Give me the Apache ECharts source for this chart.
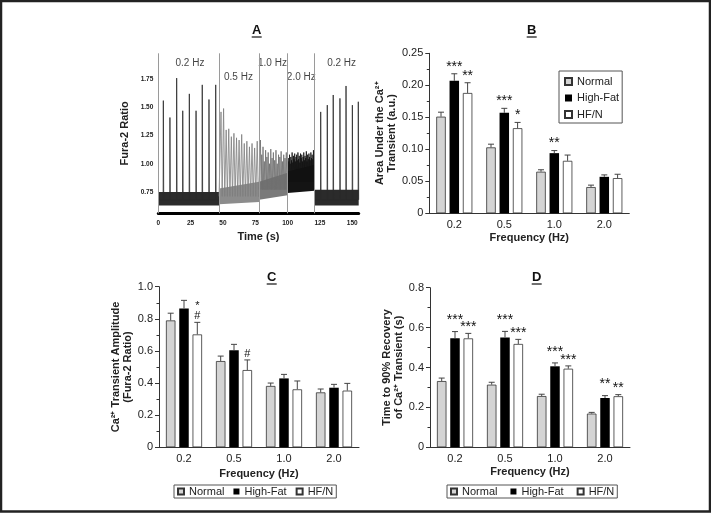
<!DOCTYPE html>
<html><head><meta charset="utf-8">
<script src="https://cdn.jsdelivr.net/npm/echarts@6/dist/echarts.min.js"></script>
<style>html,body{margin:0;padding:0;background:#fff}#c{width:711px;height:513px}</style>
</head><body><div id="c"></div><script>
// ---------- Panel A: Fura-2 trace ----------
const boundaryTimes = [0, 47, 78, 100, 121];
const hzLabels = ['0.2 Hz', '0.5 Hz', '1.0 Hz', '2.0 Hz', '0.2 Hz'];
const hzLabelT = [24.5, 62, 88.3, 110.6, 141.8];
const hzLabelV = [1.89, 1.77, 1.89, 1.77, 1.89];
const yTicksA = [0.75, 1.0, 1.25, 1.5, 1.75];

const spikeT02a = [3.9, 9.0, 14.2, 18.9, 24.0, 29.2, 34.0, 39.2, 44.4];
const spikeP02a = [1.56, 1.41, 1.76, 1.47, 1.62, 1.47, 1.70, 1.57, 1.70];
const spikeT05 = [48.5, 50.5, 52.5, 54.5, 56.5, 58.5, 60.5, 62.5, 64.5, 66.5, 68.5, 70.5, 72.5, 74.5, 76.5];
const spikeP05 = [1.46, 1.49, 1.30, 1.31, 1.24, 1.27, 1.23, 1.21, 1.26, 1.18, 1.20, 1.15, 1.18, 1.14, 1.20];
const spikeT10 = [79, 80, 81, 82, 83, 84, 85, 86, 87, 88, 89, 90, 91, 92, 93, 94, 95, 96, 97, 98, 99];
const spikeP10 = [1.21, 1.08, 1.15, 1.02, 1.12, 1.06, 1.10, 1.00, 1.13, 1.05, 1.10, 1.03, 1.12, 1.00, 1.08, 1.06, 1.11, 1.02, 1.08, 1.05, 1.10];
const spikeT20 = [100.5, 101, 101.5, 102, 102.5, 103, 103.5, 104, 104.5, 105, 105.5, 106, 106.5, 107, 107.5, 108, 108.5, 109, 109.5, 110, 110.5, 111, 111.5, 112, 112.5, 113, 113.5, 114, 114.5, 115, 115.5, 116, 116.5, 117, 117.5, 118, 118.5, 119, 119.5, 120, 120.5];
const spikeP20 = [1.05, 1.02, 1.08, 1.00, 1.06, 1.03, 1.10, 1.01, 1.07, 1.04, 1.09, 1.02, 1.06, 1.08, 1.03, 1.10, 1.04, 1.07, 1.01, 1.09, 1.05, 1.08, 1.02, 1.06, 1.10, 1.03, 1.07, 1.05, 1.11, 1.02, 1.08, 1.04, 1.09, 1.06, 1.03, 1.10, 1.05, 1.08, 1.04, 1.12, 1.07];
const spikeT02b = [125.6, 130.7, 135.3, 140.5, 145.2, 150.1, 154.7];
const spikeP02b = [1.46, 1.52, 1.61, 1.58, 1.69, 1.52, 1.55];
const spikeBase = [0.68, 0.71, 0.77, 0.84, 0.68];

// noisy baseline envelope per stimulation period
const bandStart = [0, 47, 78, 100, 121];
const bandEnd = [47, 78, 100, 121, 155];
const bandLoStart = [0.63, 0.64, 0.68, 0.74, 0.63];
const bandLoEnd = [0.63, 0.66, 0.72, 0.76, 0.63];
const bandHiStart = [0.75, 0.78, 0.84, 0.93, 0.77];
const bandHiEnd = [0.75, 0.84, 0.92, 0.99, 0.77];

// ---------- Panels B, C, D ----------
const categories = ['0.2', '0.5', '1.0', '2.0'];
const seriesNames = ['Normal', 'High-Fat', 'HF/N'];

const aucNormal = [0.151, 0.103, 0.065, 0.041];
const aucNormalErr = [0.007, 0.005, 0.003, 0.003];
const aucHighFat = [0.207, 0.157, 0.094, 0.057];
const aucHighFatErr = [0.011, 0.007, 0.004, 0.003];
const aucHFN = [0.188, 0.133, 0.082, 0.055];
const aucHFNErr = [0.016, 0.009, 0.009, 0.006];
const aucSigHighFat = ['***', '***', '**', ''];
const aucSigHFN = ['**', '*', '', ''];

const ampNormal = [0.790, 0.537, 0.382, 0.342];
const ampNormalErr = [0.045, 0.031, 0.018, 0.021];
const ampHighFat = [0.865, 0.604, 0.429, 0.371];
const ampHighFatErr = [0.050, 0.037, 0.025, 0.021];
const ampHFN = [0.703, 0.481, 0.361, 0.353];
const ampHFNErr = [0.075, 0.063, 0.052, 0.045];
const ampSigHighFat = ['', '', '', ''];
const ampSigHFN = ['*\n#', '#', '', ''];

const recNormal = [0.332, 0.314, 0.257, 0.169];
const recNormalErr = [0.015, 0.012, 0.009, 0.006];
const recHighFat = [0.546, 0.551, 0.406, 0.247];
const recHighFatErr = [0.034, 0.030, 0.017, 0.012];
const recHFN = [0.546, 0.518, 0.394, 0.256];
const recHFNErr = [0.025, 0.023, 0.014, 0.008];
const recSigHighFat = ['***', '***', '***', '**'];
const recSigHFN = ['***', '***', '***', '**'];
const noSig = ['', '', '', ''];

// ---------- styling ----------
const FONT = '"Liberation Sans", Arial, Helvetica, sans-serif';
const INK = '#222';
const BAR_W = 9.5;
const BAR_STEP = 13.3;
const barFill = ['#d4d4d4', '#000000', '#ffffff'];
const regionFill = ['#2b2b2b', '#8c8c8c', '#7a7a7a', '#141414', '#2b2b2b'];
const spikeColor = ['#2a2a2a', '#7d7d7d', '#6e6e6e', '#111111', '#2a2a2a'];
const spikeRise = [0.15, 0.35, 0.25, 0.12, 0.15];
const spikeFall = [0.3, 0.9, 0.55, 0.3, 0.3];

const spikeSets = [[spikeT02a, spikeP02a], [spikeT05, spikeP05], [spikeT10, spikeP10], [spikeT20, spikeP20], [spikeT02b, spikeP02b]];
const traceSeries = spikeSets.map(([ts, ps], r) => {
  const b = spikeBase[r];
  const pts = [[bandStart[r], b]];
  ts.forEach((t, i) => { pts.push([t - spikeRise[r], b], [t, ps[i]], [t + spikeFall[r], b]); });
  pts.push([bandEnd[r], b]);
  return {
    type: 'line', name: 'trace' + r, xAxisIndex: 0, yAxisIndex: 0, data: pts, showSymbol: false, symbol: 'none',
    sampling: null, silent: true, z: 2, lineStyle: { color: spikeColor[r], width: 0.8 }
  };
});

const bandData = bandStart.map((s, i) => [s, bandEnd[i], bandLoStart[i], bandLoEnd[i], bandHiStart[i], bandHiEnd[i]]);

const chart = echarts.init(document.getElementById('c'), null, { renderer: 'canvas' });

function errSeries(name, gi, axisIdx, vals, errs, sigs, sigSize, sigLH, lift) {
  return {
    type: 'custom', name: name + ' err', xAxisIndex: axisIdx, yAxisIndex: axisIdx, z: 5,
    silent: true, legendHoverLink: false,
    data: vals.map((v, i) => [i, v, errs[i]]),
    encode: { x: 0, y: 1 },
    renderItem: function (params, api) {
      const ci = api.value(0), v = api.value(1), e = api.value(2);
      const b = api.coord([ci, v]);
      const t = api.coord([ci, v + e]);
      const x = b[0] + (gi - 1) * BAR_STEP;
      const kids = [
        { type: 'line', shape: { x1: x, y1: b[1], x2: x, y2: t[1] }, style: { stroke: '#444', lineWidth: 1 } },
        { type: 'line', shape: { x1: x - 3, y1: t[1], x2: x + 3, y2: t[1] }, style: { stroke: '#444', lineWidth: 1 } }
      ];
      const s = sigs[params.dataIndex];
      if (s) {
        kids.push({ type: 'text', style: { text: s, x: x, y: t[1] - lift, align: 'center', verticalAlign: 'bottom',
          fontSize: sigSize, lineHeight: sigLH, fontFamily: FONT, fill: '#111' } });
      }
      return { type: 'group', children: kids };
    }
  };
}

function barSeries(name, gi, axisIdx, vals) {
  return {
    type: 'bar', name: name, xAxisIndex: axisIdx, yAxisIndex: axisIdx,
    data: vals, barWidth: BAR_W, barGap: '40%',
    itemStyle: { color: barFill[gi], borderColor: '#333', borderWidth: gi === 1 ? 0 : 0.8 },
    emphasis: { disabled: true }
  };
}

function catX(gridIdx, nameGap) {
  return {
    type: 'category', gridIndex: gridIdx, data: categories,
    axisLine: { lineStyle: { color: '#333', width: 1 } }, axisTick: { show: false },
    axisLabel: { fontSize: 11, color: INK, fontFamily: FONT, margin: 6 },
    name: 'Frequency (Hz)', nameLocation: 'middle', nameGap: nameGap,
    nameTextStyle: { fontSize: 11, fontWeight: 'bold', color: INK, fontFamily: FONT }
  };
}
function valY(gridIdx, max, interval, digits, name, nameGap) {
  return {
    type: 'value', gridIndex: gridIdx, min: 0, max: max, interval: interval,
    axisLine: { show: true, lineStyle: { color: '#333', width: 1 } },
    axisTick: { show: true, length: 4, lineStyle: { color: '#333' } },
    minorTick: { show: true, splitNumber: 2, length: 2.5, lineStyle: { color: '#333' } },
    splitLine: { show: false },
    axisLabel: { fontSize: 11, color: INK, fontFamily: FONT, margin: 6,
      formatter: v => (v === 0 ? '0' : v.toFixed(digits)) },
    name: name, nameLocation: 'middle', nameGap: nameGap,
    nameTextStyle: { fontSize: 11, fontWeight: 'bold', color: INK, fontFamily: FONT, lineHeight: 12 }
  };
}

function panelTitle(letter, cx, cy) {
  return [
    { type: 'text', style: { text: letter, x: cx, y: cy, align: 'center', verticalAlign: 'middle',
      font: 'bold 13px ' + FONT, fill: '#111' } },
    { type: 'line', shape: { x1: cx - 5, y1: cy + 7, x2: cx + 5, y2: cy + 7 }, style: { stroke: '#111', lineWidth: 1.2 } }
  ];
}

const legendBase = {
  data: seriesNames, icon: 'rect', itemWidth: 6, itemHeight: 6, itemTextGap: 5,
  borderColor: '#555', borderWidth: 1, selectedMode: false,
  textStyle: { fontSize: 11, color: INK, fontFamily: FONT }
};

const option = {
  animation: false,
  backgroundColor: '#fff',
  textStyle: { fontFamily: FONT },
  grid: [
    { left: 158.3, top: 53.3, width: 200.4, height: 160 },
    { left: 429.3, top: 53.3, width: 200, height: 160 },
    { left: 159, top: 286.7, width: 200, height: 160.6 },
    { left: 430, top: 287.7, width: 200, height: 159.6 }
  ],
  legend: [
    Object.assign({}, legendBase, { orient: 'vertical', left: 559, top: 71, itemWidth: 7, itemHeight: 7, itemGap: 5.5, padding: [5, 3, 3, 5] }),
    Object.assign({}, legendBase, { orient: 'horizontal', left: 174, top: 485, itemGap: 9, padding: [1, 3, 1, 3] }),
    Object.assign({}, legendBase, { orient: 'horizontal', left: 447, top: 485, itemGap: 13, padding: [1, 3, 1, 3] })
  ],
  xAxis: [
    { type: 'value', gridIndex: 0, min: 0, max: 155, interval: 25,
      axisLine: { show: true, lineStyle: { color: '#000', width: 3 } }, axisTick: { show: false }, splitLine: { show: false },
      axisLabel: { fontSize: 6.5, fontWeight: 'bold', color: INK, fontFamily: FONT, margin: 6,
        formatter: v => (v > 150 ? '' : String(v)) },
      name: 'Time (s)', nameLocation: 'middle', nameGap: 18,
      nameTextStyle: { fontSize: 11, fontWeight: 'bold', color: INK, fontFamily: FONT } },
    catX(1, 19), catX(2, 21), catX(3, 19)
  ],
  yAxis: [
    { type: 'value', gridIndex: 0, min: 0.56, max: 1.98,
      axisLine: { show: false }, axisTick: { show: false }, splitLine: { show: false },
      axisLabel: { customValues: yTicksA, fontSize: 6.5, fontWeight: 'bold', color: INK, fontFamily: FONT, margin: 5,
        formatter: v => v.toFixed(2) },
      name: 'Fura-2 Ratio', nameLocation: 'middle', nameGap: 28,
      nameTextStyle: { fontSize: 11, fontWeight: 'bold', color: INK, fontFamily: FONT } },
    valY(1, 0.25, 0.05, 2, 'Area Under the Ca\u00B2\u207A\nTransient (a.u.)', 30),
    valY(2, 1.0, 0.2, 1, 'Ca\u00B2\u207A Transient Amplitude\n(Fura-2 Ratio)', 19.5),
    valY(3, 0.8, 0.2, 1, 'Time to 90% Recovery\nof Ca\u00B2\u207A Transient (s)', 18.5)
  ],
  graphic: [].concat(
    panelTitle('A', 256.7, 30), panelTitle('B', 531.7, 30), panelTitle('C', 271.7, 277), panelTitle('D', 536.7, 277),
    [{ type: 'rect', silent: true, z: 100, shape: { x: 1, y: 1, width: 709, height: 510.5 },
       style: { fill: 'none', stroke: '#222', lineWidth: 2.5 } }]
  ),
  series: [
    { type: 'custom', name: 'baseline', xAxisIndex: 0, yAxisIndex: 0, silent: true, z: 1,
      data: bandData, encode: { x: [0, 1], y: [2, 3, 4, 5] },
      renderItem: function (params, api) {
        const p0 = api.coord([api.value(0), api.value(2)]);
        const p1 = api.coord([api.value(1), api.value(3)]);
        const p2 = api.coord([api.value(1), api.value(5)]);
        const p3 = api.coord([api.value(0), api.value(4)]);
        return { type: 'polygon', shape: { points: [p0, p1, p2, p3] }, style: { fill: regionFill[params.dataIndex] } };
      } },
    { type: 'line', name: 'boundaries', xAxisIndex: 0, yAxisIndex: 0, data: [], silent: true, z: 3,
      markLine: { symbol: 'none', silent: true, label: { show: false }, animation: false,
        lineStyle: { color: '#9a9a9a', width: 1, type: 'solid' },
        data: boundaryTimes.map(t => ({ xAxis: t })) } },
    { type: 'scatter', name: 'hz', xAxisIndex: 0, yAxisIndex: 0, silent: true, symbolSize: 0, z: 4,
      data: hzLabelT.map((t, i) => [t, hzLabelV[i], hzLabels[i]]),
      label: { show: true, position: 'inside', formatter: p => p.value[2], fontSize: 10, color: '#111', fontFamily: FONT } }
  ].concat(traceSeries, [
    barSeries('Normal', 0, 1, aucNormal), barSeries('High-Fat', 1, 1, aucHighFat), barSeries('HF/N', 2, 1, aucHFN),
    errSeries('Normal', 0, 1, aucNormal, aucNormalErr, noSig, 14, 14, 0),
    errSeries('High-Fat', 1, 1, aucHighFat, aucHighFatErr, aucSigHighFat, 14, 14, 0),
    errSeries('HF/N', 2, 1, aucHFN, aucHFNErr, aucSigHFN, 14, 14, 0),

    barSeries('Normal', 0, 2, ampNormal), barSeries('High-Fat', 1, 2, ampHighFat), barSeries('HF/N', 2, 2, ampHFN),
    errSeries('Normal', 0, 2, ampNormal, ampNormalErr, noSig, 11, 10, 1),
    errSeries('High-Fat', 1, 2, ampHighFat, ampHighFatErr, ampSigHighFat, 11, 10, 1),
    errSeries('HF/N', 2, 2, ampHFN, ampHFNErr, ampSigHFN, 11, 10, 1),

    barSeries('Normal', 0, 3, recNormal), barSeries('High-Fat', 1, 3, recHighFat), barSeries('HF/N', 2, 3, recHFN),
    errSeries('Normal', 0, 3, recNormal, recNormalErr, noSig, 14, 14, 0),
    errSeries('High-Fat', 1, 3, recHighFat, recHighFatErr, recSigHighFat, 14, 14, 4),
    errSeries('HF/N', 2, 3, recHFN, recHFNErr, recSigHFN, 14, 14, -1)
  ])
};
chart.setOption(option);
</script></body></html>
